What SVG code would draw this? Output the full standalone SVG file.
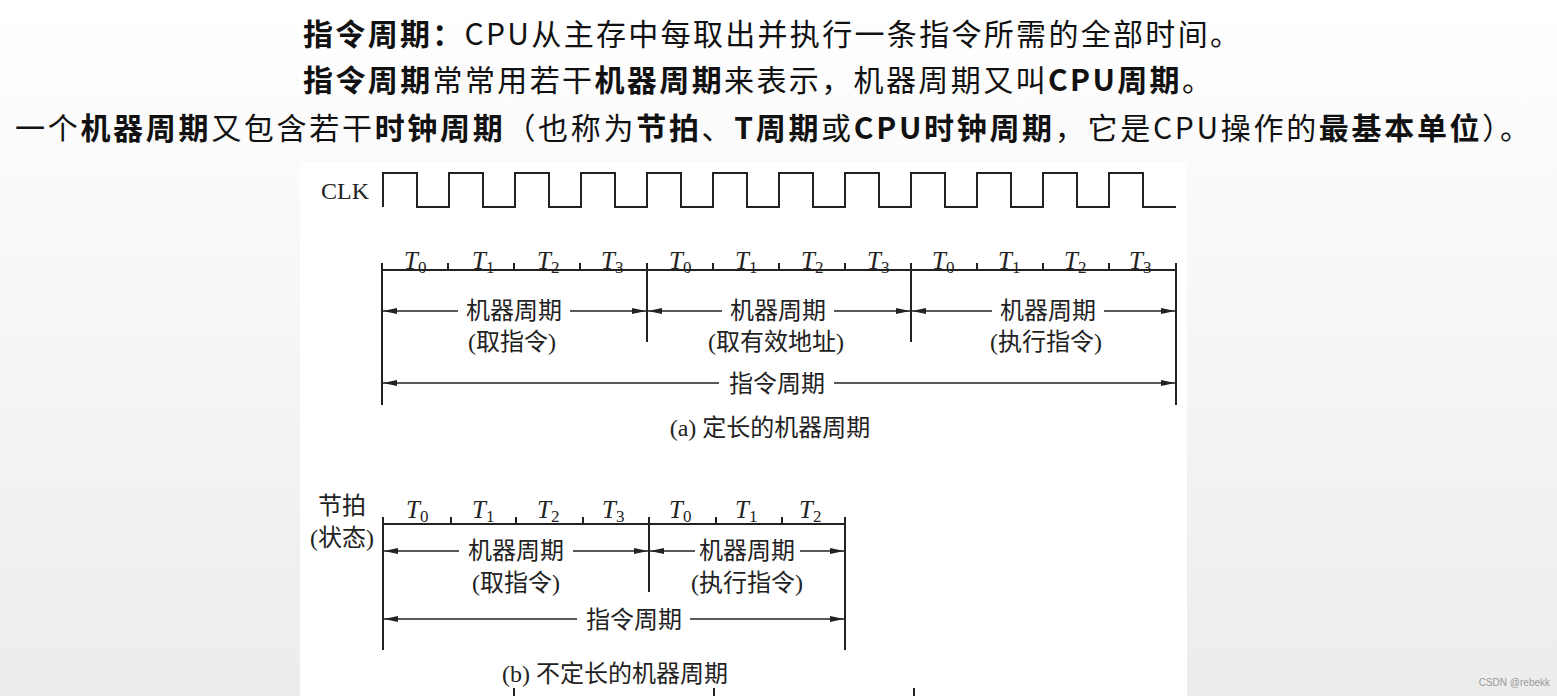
<svg xmlns="http://www.w3.org/2000/svg" width="1557" height="696" viewBox="0 0 1557 696">
<defs>
<linearGradient id="bg" x1="0" y1="0" x2="0" y2="1"><stop offset="0" stop-color="#ffffff"/><stop offset="1" stop-color="#ececec"/></linearGradient>
<marker id="ah" viewBox="0 0 14 6" refX="14" refY="3" markerWidth="14" markerHeight="6" markerUnits="userSpaceOnUse" orient="auto-start-reverse"><path d="M0,0 L14,3 L0,6 Z" fill="#222"/></marker>
<style>
.h{font-family:"Noto Sans CJK SC","Noto Sans",sans-serif;font-size:30px;fill:#111}
.b{font-weight:bold}
.c{font-family:"Liberation Serif","Noto Sans CJK SC",serif;font-size:24px;fill:#222}
.t{font-family:"Liberation Serif",serif;font-size:25px;font-style:italic;fill:#222}
.s{font-size:17px;font-style:normal}
.l{stroke:#222;stroke-width:2;fill:none}
.a{stroke:#222;stroke-width:1.5;fill:none;marker-end:url(#ah)}
</style>
</defs>
<rect width="1557" height="696" fill="url(#bg)"/>
<rect x="300" y="162" width="887" height="534" fill="#fff"/>
<g id="header">
<text class="h" x="303" y="45" textLength="937"><tspan class="b">指令周期：</tspan>CPU从主存中每取出并执行一条指令所需的全部时间。</text>
<text class="h" x="303" y="91" textLength="909"><tspan class="b">指令周期</tspan>常常用若干<tspan class="b">机器周期</tspan>来表示，机器周期又叫<tspan class="b">CPU周期</tspan>。</text>
<text class="h" x="15" y="139" textLength="1515">一个<tspan class="b">机器周期</tspan>又包含若干<tspan class="b">时钟周期</tspan>（也称为<tspan class="b">节拍</tspan>、<tspan class="b">T周期</tspan>或<tspan class="b">CPU时钟周期</tspan>，它是CPU操作的<tspan class="b">最基本单位</tspan>）。</text>
</g>
<g id="clk">
<text class="c" x="321" y="199">CLK</text>
<path class="l" d="M383,207 V173 H417 V207 H449 V173 H483 V207 H515 V173 H549 V207 H581 V173 H615 V207 H647 V173 H681 V207 H713 V173 H747 V207 H779 V173 H813 V207 H845 V173 H879 V207 H911 V173 H945 V207 H977 V173 H1011 V207 H1043 V173 H1077 V207 H1109 V173 H1143 V207 H1176"/>
</g>
<g id="axis-a">
<path class="l" d="M382,270 H1176 M448,270 V263 M514,270 V263 M580,270 V263 M713,270 V263 M779,270 V263 M845,270 V263 M977,270 V263 M1043,270 V263 M1109,270 V263 M382,263 V405 M647,263 V342 M911,263 V342 M1176,263 V405"/>
<text class="t" x="404" y="269">T<tspan class="s" dy="4">0</tspan></text>
<text class="t" x="472" y="269">T<tspan class="s" dy="4">1</tspan></text>
<text class="t" x="537" y="269">T<tspan class="s" dy="4">2</tspan></text>
<text class="t" x="601" y="269">T<tspan class="s" dy="4">3</tspan></text>
<text class="t" x="669" y="269">T<tspan class="s" dy="4">0</tspan></text>
<text class="t" x="735" y="269">T<tspan class="s" dy="4">1</tspan></text>
<text class="t" x="801" y="269">T<tspan class="s" dy="4">2</tspan></text>
<text class="t" x="867" y="269">T<tspan class="s" dy="4">3</tspan></text>
<text class="t" x="932" y="269">T<tspan class="s" dy="4">0</tspan></text>
<text class="t" x="998" y="269">T<tspan class="s" dy="4">1</tspan></text>
<text class="t" x="1064" y="269">T<tspan class="s" dy="4">2</tspan></text>
<text class="t" x="1129" y="269">T<tspan class="s" dy="4">3</tspan></text>
</g>
<g id="connectors">
<path class="a" d="M458,311 H383"/><path class="a" d="M570,311 H646"/>
<path class="a" d="M722,311 H648"/><path class="a" d="M834,311 H910"/>
<path class="a" d="M992,311 H912"/><path class="a" d="M1104,311 H1175"/>
<path class="a" d="M719,383 H383"/><path class="a" d="M834,383 H1175"/>
<path class="a" d="M459,551 H384"/><path class="a" d="M573,551 H648"/>
<path class="a" d="M695,551 H650"/><path class="a" d="M800,551 H844"/>
<path class="a" d="M577,619 H384"/><path class="a" d="M690,619 H844"/>
</g>
<g id="labels-a" class="c" text-anchor="middle">
<text x="514" y="319">机器周期</text><text x="512" y="350">(取指令)</text>
<text x="778" y="319">机器周期</text><text x="776" y="350">(取有效地址)</text>
<text x="1048" y="319">机器周期</text><text x="1046" y="350">(执行指令)</text>
<text x="777" y="392">指令周期</text>
<text x="770" y="436">(a) 定长的机器周期</text>
</g>
<g id="axis-b">
<path class="l" d="M383,524 H845 M451,524 V517 M516,524 V517 M583,524 V517 M716,524 V517 M782,524 V517 M383,517 V650 M649,517 V592 M845,517 V650 M514,688 V696 M714,688 V696 M914,688 V696"/>
<text class="c" x="342" y="514" text-anchor="middle">节拍</text>
<text class="c" x="342" y="546" text-anchor="middle">(状态)</text>
<text class="t" x="406" y="518">T<tspan class="s" dy="4">0</tspan></text>
<text class="t" x="472" y="518">T<tspan class="s" dy="4">1</tspan></text>
<text class="t" x="537" y="518">T<tspan class="s" dy="4">2</tspan></text>
<text class="t" x="602" y="518">T<tspan class="s" dy="4">3</tspan></text>
<text class="t" x="669" y="518">T<tspan class="s" dy="4">0</tspan></text>
<text class="t" x="735" y="518">T<tspan class="s" dy="4">1</tspan></text>
<text class="t" x="799" y="518">T<tspan class="s" dy="4">2</tspan></text>
</g>
<g id="labels-b" class="c" text-anchor="middle">
<text x="516" y="559">机器周期</text><text x="516" y="591">(取指令)</text>
<text x="747" y="559">机器周期</text><text x="747" y="591">(执行指令)</text>
<text x="634" y="628">指令周期</text>
<text x="615" y="682">(b) 不定长的机器周期</text>
</g>
<text x="1550" y="686" text-anchor="end" font-family="Liberation Sans,sans-serif" font-size="10" fill="#999">CSDN @rebekk</text>
</svg>
